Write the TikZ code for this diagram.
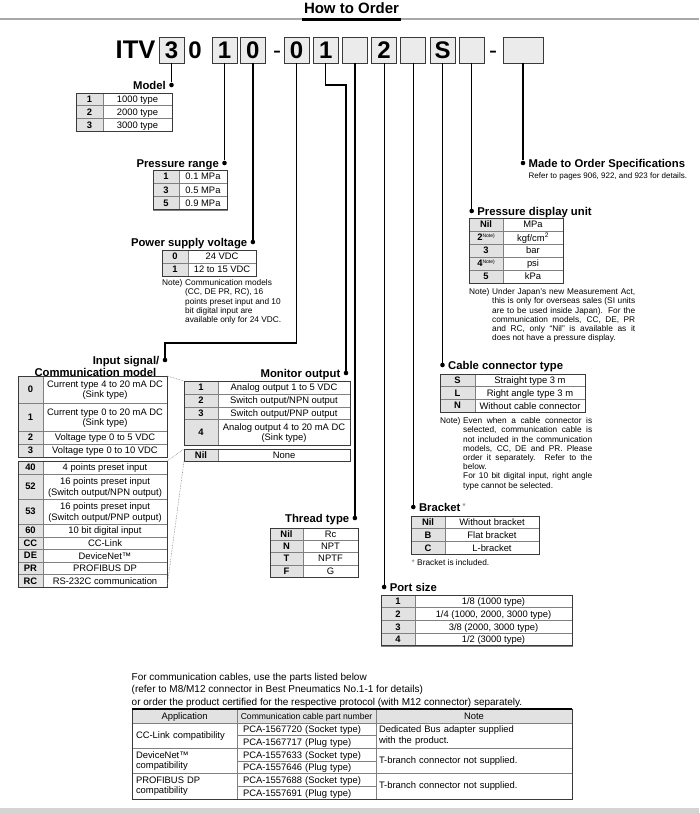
\documentclass[tikz,border=0pt]{standalone}
\usepackage{fontspec}
\setmainfont{Liberation Sans}
\usetikzlibrary{positioning}
\definecolor{griscaja}{HTML}{EBEBEB}
\definecolor{grisclave}{HTML}{E2E2E2}
\definecolor{grislinea}{HTML}{808080}
\definecolor{grismarco}{HTML}{3A3A3A}
\definecolor{grisregla}{HTML}{A8A8A8}
\definecolor{grisbanda}{HTML}{D4D4D4}
\newcommand{\notasup}{\raisebox{3pt}{\mdseries\fontsize{5}{5}\selectfont Note)}}

\begin{document}
\begin{tikzpicture}[
    x=1pt, y=-1pt,
    caja/.style={draw=grismarco, fill=griscaja, line width=0.8pt, outer sep=0pt, inner sep=0pt,
      minimum width=25pt, minimum height=26pt, font=\fontsize{24}{24}\selectfont\bfseries},
    grande/.style={inner sep=0pt, anchor=base, font=\fontsize{24}{24}\selectfont\bfseries},
    celda/.style={draw=grislinea, line width=0.5pt, outer sep=0pt, inner xsep=1pt, inner ysep=0pt,
      anchor=north west, align=center, font=\fontsize{9.4}{10.4}\selectfont},
    centro/.style={celda, text depth=0pt},
    clave/.style={centro, fill=grisclave, font=\fontsize{9.4}{10.4}\selectfont\bfseries},
    valor/.style={centro, fill=white},
    fila/.style={celda, align=left},
    marco/.style={draw=grismarco, line width=0.9pt},
    titulo/.style={inner sep=0pt, text height=8.2pt, text depth=0pt, font=\fontsize{11.3}{13}\selectfont\bfseries},
    punto/.style={circle, fill=black, inner sep=0pt, minimum size=4.6pt},
    linea/.style={line width=1.2pt},
    nota/.style={inner sep=0pt, anchor=north west, font=\fontsize{8.3}{9.2}\selectfont},
    guia/.style={densely dotted, draw=gray, line width=0.6pt}
  ]
  \useasboundingbox (0,0) rectangle (699,813);

  \node[inner sep=0pt, font=\fontsize{15}{15}\selectfont\bfseries] (cabecera) at (351.5,8) {How to Order};
  \fill[grisregla] (0,18.5) rectangle (699,20.3);
  \fill[black] (302,18) rectangle (401,21);

  % codigo
  \node[grande, font=\fontsize{25.5}{26}\selectfont\bfseries] (itv) at (135.5,58.6) {ITV};
  \node[caja] (c-mod) at (171.5,50) {3};
  \node[grande] (cero) at (195,58.6) {0};
  \node[caja] (c-pres) at (224.5,50) {1};
  \node[caja, right=3.4pt of c-pres] (c-alim) {0};
  \node[grande, font=\fontsize{24}{24}\selectfont] (guion1) at (277,58.6) {-};
  \node[caja] (c-ent) at (296.5,50) {0};
  \node[caja, right=4.2pt of c-ent] (c-mon) {1};
  \node[caja, right=4.2pt of c-mon] (c-rosca) {};
  \node[caja, right=4.2pt of c-rosca] (c-puerto) {2};
  \node[caja, right=4.2pt of c-puerto] (c-sop) {};
  \node[caja, right=4.2pt of c-sop] (c-cable) {S};
  \node[caja, right=4.2pt of c-cable] (c-unid) {};
  \node[grande, font=\fontsize{24}{24}\selectfont] (guion2) at (493,58.6) {-};
  \node[caja, minimum width=40pt] (c-esp) at (523,50) {};

  \path (c-mod.south) ++(0,22) node[punto] (p-mod) {};
  \path (c-pres.south) ++(0,100) node[punto] (p-pres) {};
  \path (c-alim.south) ++(0,179) node[punto] (p-alim) {};
  \node[punto] (p-ent) at (165,360) {};
  \node[punto] (p-mon) at (346,373) {};
  \path (c-rosca.south) ++(0,455) node[punto] (p-rosca) {};
  \path (c-puerto.south) ++(0,524) node[punto] (p-puerto) {};
  \path (c-sop.south) ++(0,444) node[punto] (p-sop) {};
  \path (c-cable.south) ++(0,302) node[punto] (p-cable) {};
  \path (c-unid.south) ++(0,148) node[punto] (p-unid) {};
  \path (c-esp.south) ++(0,100) node[punto] (p-esp) {};

  \foreach \n in {mod,pres,alim,rosca,puerto,sop,cable,unid,esp}
    \draw[linea] (c-\n) -- (p-\n);
  \draw[linea] (c-ent.south) |- ([yshift=17pt]p-ent.center) -- (p-ent);
  \draw[linea] (c-mon.south) -- ++(0,22) -| (p-mon);

  \node[titulo, left=3pt of p-mod] (t-mod) {Model};
  \node[titulo, left=3pt of p-pres] (t-pres) {Pressure range};
  \node[titulo, left=3pt of p-alim] (t-alim) {Power supply voltage};
  \node[titulo, left=3pt of p-ent] (t-ent) {Input signal/};
  \node[titulo, below=3.8pt of t-ent.south east, anchor=north east, xshift=-3pt] (t-ent2) {Communication model};
  \node[titulo, left=3pt of p-mon] (t-mon) {Monitor output};
  \node[titulo, left=3pt of p-rosca] (t-rosca) {Thread type};
  \node[titulo, right=3pt of p-esp] (t-esp) {Made to Order Specifications};
  \node[titulo, right=3pt of p-unid] (t-unid) {Pressure display unit};
  \node[titulo, right=3pt of p-cable] (t-cable) {Cable connector type};
  \node[titulo, right=3pt of p-sop] (t-sop) {Bracket\,\textcolor{gray}{\raisebox{2pt}{\mdseries\fontsize{9}{9}\selectfont *}}};
  \node[titulo, right=3pt of p-puerto] (t-puerto) {Port size};

  % tablas
  \foreach \k/\v [count=\i] in {1/1000 type, 2/2000 type, 3/3000 type} {
    \node[clave, minimum width=27pt, minimum height=12.7pt] (mod-c\i) at (76,{93+12.7*(\i-1)}) {\k};
    \node[valor, minimum width=69pt, minimum height=12.7pt, right=0pt of mod-c\i] (mod-v\i) {\v};
  }
  \draw[marco] (mod-c1.north west) rectangle (mod-v3.south east);

  \foreach \k/\v [count=\i] in {1/0.1 MPa, 3/0.5 MPa, 5/0.9 MPa} {
    \node[clave, minimum width=26pt, minimum height=13.3pt] (pres-c\i) at (153,{170+13.3*(\i-1)}) {\k};
    \node[valor, minimum width=48pt, minimum height=13.3pt, right=0pt of pres-c\i] (pres-v\i) {\v};
  }
  \draw[marco] (pres-c1.north west) rectangle (pres-v3.south east);

  \foreach \k/\v [count=\i] in {0/24 VDC, 1/12 to 15 VDC} {
    \node[clave, minimum width=26pt, minimum height=13pt] (alim-c\i) at (162,{250+13*(\i-1)}) {\k};
    \node[valor, minimum width=68pt, minimum height=13pt, right=0pt of alim-c\i] (alim-v\i) {\v};
  }
  \draw[marco] (alim-c1.north west) rectangle (alim-v2.south east);

  \foreach \k/\v/\y/\h [count=\i] in {0/{Current type 4 to 20 mA DC\\(Sink type)}/376/27,
      1/{Current type 0 to 20 mA DC\\(Sink type)}/403/28, 2/Voltage type 0 to 5 VDC/431/13,
      3/Voltage type 0 to 10 VDC/444/13} {
    \node[clave, minimum width=25pt, minimum height=\h pt] (ent-c\i) at (18,\y) {\k};
    \node[valor, minimum width=124pt, minimum height=\h pt, right=0pt of ent-c\i] (ent-v\i) {\v};
  }
  \draw[marco] (ent-c1.north west) rectangle (ent-v4.south east);

  \foreach \k/\v/\y/\h [count=\i] in {40/4 points preset input/461/13,
      52/{16 points preset input\\(Switch output/NPN output)}/474/25,
      53/{16 points preset input\\(Switch output/PNP output)}/499/25,
      60/10 bit digital input/524/13, CC/CC-Link/537/12.5, DE/DeviceNet™/549.5/12.5,
      PR/PROFIBUS DP/562/12.5, RC/RS-232C communication/574.5/12.5} {
    \node[clave, minimum width=25pt, minimum height=\h pt] (com-c\i) at (18,\y) {\k};
    \node[valor, minimum width=124pt, minimum height=\h pt, right=0pt of com-c\i] (com-v\i) {\v};
  }
  \draw[marco] (com-c1.north west) rectangle (com-v8.south east);

  \foreach \k/\v/\y/\h [count=\i] in {1/Analog output 1 to 5 VDC/381/13,
      2/{Switch output/NPN output}/394/13, 3/{Switch output/PNP output}/407/12,
      4/{Analog output 4 to 20 mA DC\\(Sink type)}/419/26} {
    \node[clave, minimum width=34pt, minimum height=\h pt] (mon-c\i) at (184,\y) {\k};
    \node[valor, minimum width=132pt, minimum height=\h pt, right=0pt of mon-c\i] (mon-v\i) {\v};
  }
  \draw[marco] (mon-c1.north west) rectangle (mon-v4.south east);
  \node[clave, minimum width=34pt, minimum height=12pt] (mon-nc) at (184,449) {Nil};
  \node[valor, minimum width=132pt, minimum height=12pt, right=0pt of mon-nc] (mon-nv) {None};
  \draw[marco] (mon-nc.north west) rectangle (mon-nv.south east);

  \draw[guia] (ent-v1.north east) -- (mon-c1.north west);
  \draw[guia] (com-v1.north east) -- (mon-nc.north west);
  \draw[guia] (com-v8.south east) -- (mon-nc.south west);

  \foreach \k/\v [count=\i] in {Nil/Rc, N/NPT, T/NPTF, F/G} {
    \node[clave, minimum width=33pt, minimum height=12.3pt] (rosca-c\i) at (270,{528+12.3*(\i-1)}) {\k};
    \node[valor, minimum width=55pt, minimum height=12.3pt, right=0pt of rosca-c\i] (rosca-v\i) {\v};
  }
  \draw[marco] (rosca-c1.north west) rectangle (rosca-v4.south east);

  \foreach \k/\v [count=\i] in {Nil/MPa, {2\notasup}/{kgf/cm\textsuperscript{2}}, 3/bar, {4\notasup}/psi, 5/kPa} {
    \node[clave, minimum width=34pt, minimum height=13pt] (unid-c\i) at (469,{218+13*(\i-1)}) {\k};
    \node[valor, minimum width=60pt, minimum height=13pt, right=0pt of unid-c\i] (unid-v\i) {\v};
  }
  \draw[marco] (unid-c1.north west) rectangle (unid-v5.south east);

  \foreach \k/\v [count=\i] in {S/Straight type 3 m, L/Right angle type 3 m, N/Without cable connector} {
    \node[clave, minimum width=35pt, minimum height=12.7pt] (cable-c\i) at (440,{374+12.7*(\i-1)}) {\k};
    \node[valor, minimum width=110pt, minimum height=12.7pt, right=0pt of cable-c\i] (cable-v\i) {\v};
  }
  \draw[marco] (cable-c1.north west) rectangle (cable-v3.south east);

  \foreach \k/\v [count=\i] in {Nil/Without bracket, B/Flat bracket, C/L-bracket} {
    \node[clave, minimum width=34pt, minimum height=12.7pt] (sop-c\i) at (411,{516+12.7*(\i-1)}) {\k};
    \node[valor, minimum width=94pt, minimum height=12.7pt, right=0pt of sop-c\i] (sop-v\i) {\v};
  }
  \draw[marco] (sop-c1.north west) rectangle (sop-v3.south east);

  \foreach \k/\v [count=\i] in {1/{1/8 (1000 type)}, 2/{1/4 (1000, 2000, 3000 type)},
      3/{3/8 (2000, 3000 type)}, 4/{1/2 (3000 type)}} {
    \node[clave, minimum width=34pt, minimum height=12.7pt] (puerto-c\i) at (381,{595+12.7*(\i-1)}) {\k};
    \node[valor, minimum width=157pt, minimum height=12.7pt, right=0pt of puerto-c\i] (puerto-v\i) {\v};
  }
  \draw[marco] (puerto-c1.north west) rectangle (puerto-v4.south east);

  % notas
  \node[nota] (n-alim-a) at (162,279.5) {Note)};
  \node[nota, align=left] (n-alim) at (185,279.5) {Communication models\\(CC, DE PR, RC), 16\\points preset input and 10\\bit digital input are\\available only for 24 VDC.};
  \node[nota, font=\fontsize{8}{9}\selectfont, below=5pt of t-esp.south west, anchor=north west] (n-esp) {Refer to pages 906, 922, and 923 for details.};
  \node[nota] (n-unid-a) at (469,288.5) {Note)};
  \node[nota, text width=143pt, align=justify] (n-unid) at (492,288.5) {Under Japan's new Measurement Act,\linebreak this is only for overseas sales (SI units\linebreak are to be used inside Japan). For the\linebreak communication models, CC, DE, PR\linebreak and RC, only ``Nil'' is available as it\linebreak does not have a pressure display.};
  \node[nota] (n-cable-a) at (440,417.5) {Note)};
  \node[nota, text width=129pt, align=justify] (n-cable) at (463,417.5) {Even when a cable connector is\linebreak selected, communication cable is\linebreak not included in the communication\linebreak models, CC, DE and PR. Please\linebreak order it separately. Refer to the\linebreak below.\\For 10 bit digital input, right angle\linebreak type cannot be selected.};
  \node[nota] (n-sop) at (411.5,559.5) {\textcolor{gray}{*} Bracket is included.};

  % cables de comunicacion
  \node[inner sep=0pt, anchor=north west, align=left, font=\fontsize{10}{12.3}\selectfont] (t-cables) at (131.5,673) {For communication cables, use the parts listed below\\(refer to M8/M12 connector in Best Pneumatics No.1-1 for details)\\or order the product certified for the respective protocol (with M12 connector) separately.};
  \node[valor, fill=grisclave, minimum width=105pt, minimum height=14pt] (h-app) at (132,709) {Application};
  \node[valor, fill=grisclave, minimum width=139pt, minimum height=14pt, right=0pt of h-app, font=\fontsize{8.6}{9}\selectfont] (h-num) {Communication cable part number};
  \node[valor, fill=grisclave, minimum width=196pt, minimum height=14pt, right=0pt of h-num] (h-nota) {Note};
  \foreach \app/\pa/\pb/\nt [count=\i] in {
      {CC-Link compatibility}/{PCA-1567720 (Socket type)}/{PCA-1567717 (Plug type)}/{Dedicated Bus adapter supplied\\with the product.},
      {DeviceNet™\\compatibility}/{PCA-1557633 (Socket type)}/{PCA-1557646 (Plug type)}/{T-branch connector not supplied.},
      {PROFIBUS DP\\compatibility}/{PCA-1557688 (Socket type)}/{PCA-1557691 (Plug type)}/{T-branch connector not supplied.}} {
    \node[fila, text width=97pt, inner xsep=4pt, minimum height=25.33pt] (app-\i) at (132,{723+25.33*(\i-1)}) {\app};
    \node[fila, text width=127pt, text depth=0pt, inner xsep=6pt, minimum height=12.67pt, right=0pt of app-\i.north east, anchor=north west] (pa-\i) {\pa};
    \node[fila, text width=127pt, text depth=0pt, inner xsep=6pt, minimum height=12.67pt, below=0pt of pa-\i] (pb-\i) {\pb};
    \node[fila, text width=190pt, inner xsep=3pt, minimum height=25.33pt, right=0pt of pa-\i.north east, anchor=north west] (nt-\i) {\nt};
  }
  \draw[marco] (h-app.north west) rectangle (nt-3.south east);
  \draw[line width=1.2pt] (h-app.north west) -- (h-nota.north east);

  \fill[grisbanda] (0,808) rectangle (699,813);
\end{tikzpicture}
\end{document}
